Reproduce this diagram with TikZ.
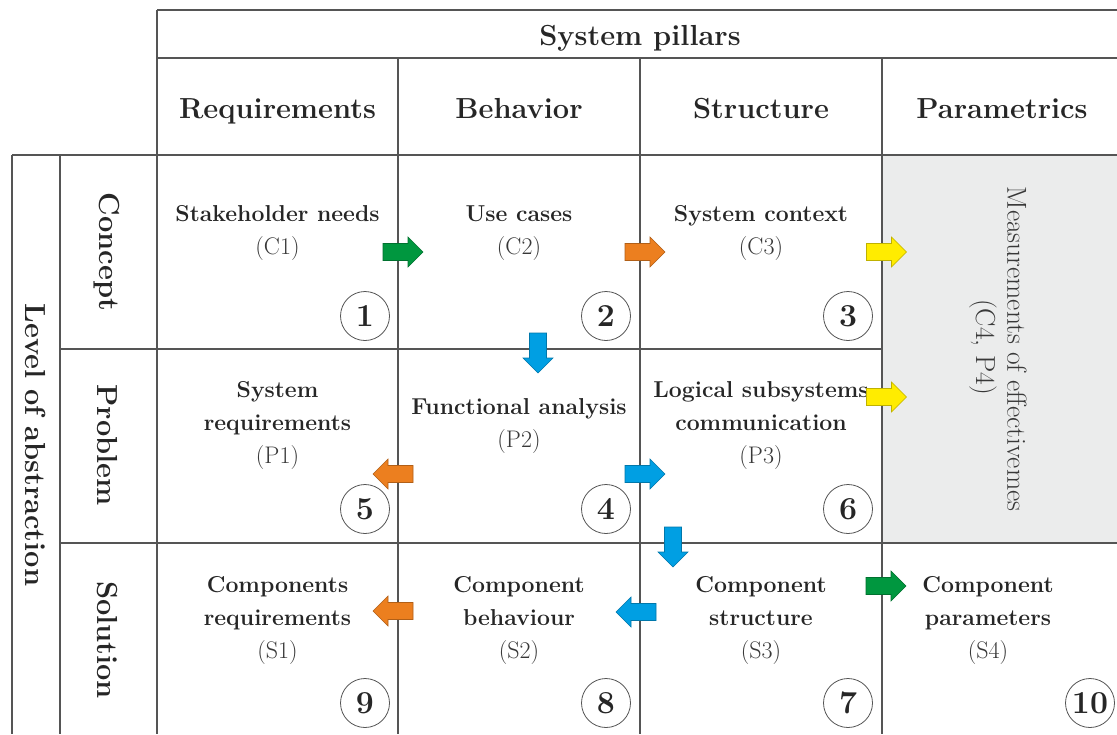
\documentclass[tikz,border=0pt]{standalone}
\definecolor{gridline}{HTML}{555555}
\definecolor{cellgrey}{HTML}{EBECEC}
\definecolor{ink}{HTML}{262626}
\definecolor{labelink}{HTML}{383838}
\definecolor{agreen}{HTML}{00973F}
\definecolor{aorange}{HTML}{EC7F1F}
\definecolor{ayellow}{HTML}{FFEC00}
\definecolor{ablue}{HTML}{009FE3}

\tikzset{
  grid/.style={draw=gridline, line width=1.2pt},
  head/.style={font=\fontsize{29}{36}\selectfont\bfseries, text=ink, anchor=base, inner sep=0pt},
  side/.style={font=\fontsize{29}{36}\selectfont\bfseries, text=ink, rotate=-90, inner sep=0pt},
  title/.style={font=\fontsize{23}{33}\selectfont\bfseries, text=ink, anchor=base, inner sep=0pt},
  tag/.style={font=\fontsize{24}{33}\selectfont, text=labelink, anchor=base, inner sep=0pt},
  moe/.style={font=\fontsize{27.5}{33}\selectfont, text=labelink, rotate=-90, inner sep=0pt},
  badge/.style={circle, draw=gridline, line width=0.8pt, minimum size=49pt, inner sep=0pt,
    font=\fontsize{32}{36}\selectfont\bfseries, text=ink},
  pics/blockarrow/.style={code={
    \draw[fill=#1, draw=#1!75!black, line width=0.6pt]
      (-20,-8.5) -- (5,-8.5) -- (5,-15) -- (20,0) -- (5,15) -- (5,8.5) -- (-20,8.5) -- cycle;
  }},
}

\begin{document}
\begin{tikzpicture}[x=1pt,y=-1pt]
\useasboundingbox (0,0) rectangle (1117,734);
\fill[white] (0,0) rectangle (1117,734);

% shaded parametrics cell spanning concept and problem rows
\fill[cellgrey] (882,155) rectangle (1117,543);

% table rules
\draw[grid] (157,10) -- (1117,10);
\draw[grid] (157,58) -- (1117,58);
\draw[grid] (12,155) -- (1117,155);
\draw[grid] (60,349) -- (882,349);
\draw[grid] (60,543) -- (1117,543);
\draw[grid] (12,155) -- (12,734);
\draw[grid] (60,155) -- (60,734);
\draw[grid] (157,10) -- (157,734);
\draw[grid] (398,58) -- (398,734);
\draw[grid] (640,58) -- (640,734);
\draw[grid] (882,58) -- (882,734);

% column headings
\node[head] (pillars) at (640,45) {System pillars};
\node[head] (hreq) at (277.5,118) {Requirements};
\node[head] (hbeh) at (519,118) {Behavior};
\node[head] (hstr) at (761,118) {Structure};
\node[head] (hpar) at (1002,118) {Parametrics};

% row headings
\node[side] (level) at (36,445) {Level of abstraction};
\node[side] (concept) at (107,252) {Concept};
\node[side] (problem) at (107,445) {Problem};
\node[side] (solution) at (107,640) {Solution};

% concept row
\node[title] (c1a) at (277.5,221) {Stakeholder needs};
\node[tag]   (c1b) at (277.5,254) {(C1)};
\node[title] (c2a) at (519,221) {Use cases};
\node[tag]   (c2b) at (519,254) {(C2)};
\node[title] (c3a) at (761,221) {System context};
\node[tag]   (c3b) at (761,254) {(C3)};

% problem row
\node[title] (p1a) at (277.5,397) {System};
\node[title] (p1b) at (277.5,430) {requirements};
\node[tag]   (p1c) at (277.5,463) {(P1)};
\node[title] (p2a) at (519,414) {Functional analysis};
\node[tag]   (p2b) at (519,447) {(P2)};
\node[title] (p3a) at (761,397) {Logical subsystems};
\node[title] (p3b) at (761,430) {communication};
\node[tag]   (p3c) at (761,463) {(P3)};

% solution row
\node[title] (s1a) at (277.5,592) {Components};
\node[title] (s1b) at (277.5,625) {requirements};
\node[tag]   (s1c) at (277.5,658) {(S1)};
\node[title] (s2a) at (519,592) {Component};
\node[title] (s2b) at (519,625) {behaviour};
\node[tag]   (s2c) at (519,658) {(S2)};
\node[title] (s3a) at (761,592) {Component};
\node[title] (s3b) at (761,625) {structure};
\node[tag]   (s3c) at (761,658) {(S3)};
\node[title] (s4a) at (988,592) {Component};
\node[title] (s4b) at (988,625) {parameters};
\node[tag]   (s4c) at (988,658) {(S4)};

% merged parametrics cell
\node[moe] (moea) at (1017,349) {Measurements of effectivemes};
\node[moe] (moeb) at (983,347) {(C4, P4)};

% step numbers
\node[badge] (n1) at (365,316) {1};
\node[badge] (n2) at (606,316) {2};
\node[badge] (n3) at (848,316) {3};
\node[badge] (n5) at (365,509) {5};
\node[badge] (n4) at (606,509) {4};
\node[badge] (n6) at (848,509) {6};
\node[badge] (n9) at (365,703) {9};
\node[badge] (n8) at (606,703) {8};
\node[badge] (n7) at (848,703) {7};
\node[badge] (n10) at (1090,703) {10};

% flow arrows between cells
\pic at (403,252) {blockarrow=agreen};
\pic at (645,252) {blockarrow=aorange};
\pic at (886.5,252) {blockarrow=ayellow};
\pic at (886.5,397) {blockarrow=ayellow};
\pic[rotate=-90] at (538,353) {blockarrow=ablue};
\pic[rotate=180] at (393,474) {blockarrow=aorange};
\pic at (645,474) {blockarrow=ablue};
\pic[rotate=-90] at (673,547) {blockarrow=ablue};
\pic[rotate=180] at (393,611) {blockarrow=aorange};
\pic[rotate=180] at (636,612) {blockarrow=ablue};
\pic at (886,586) {blockarrow=agreen};
\end{tikzpicture}
\end{document}
